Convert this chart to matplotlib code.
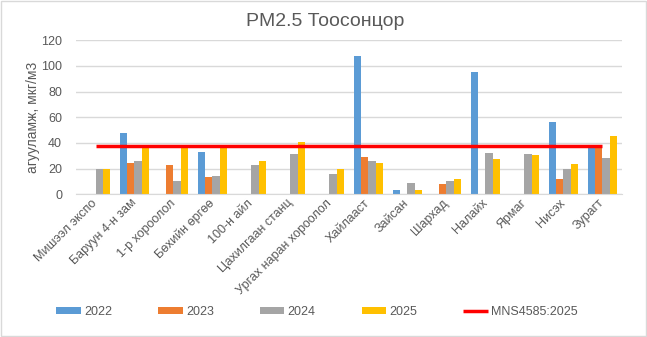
import numpy as np
import matplotlib.pyplot as plt

plt.rcParams['font.family'] = ['Liberation Sans', 'DejaVu Sans']

nan = np.nan
stations = ['Мишээл экспо', 'Баруун 4-н зам', '1-р хороолол', 'Бөхийн өргөө',
            '100-н айл', 'Цахилгаан станц', 'Ургах наран хороолол', 'Хайлааст',
            'Зайсан', 'Шархад', 'Налайх', 'Ярмаг', 'Нисэх', 'Зурагт']
pm_2022 = [nan, 47.7, nan, 32.8, nan, nan, nan, 107.8, 3.1, nan, 95.3, nan, 56.3, 38]
pm_2023 = [nan, 24.2, 22.7, 13.3, nan, nan, nan, 28.9, nan, 7.8, nan, nan, 11.7, 38]
pm_2024 = [20, 25.8, 10.2, 14.1, 22.7, 31.3, 15.6, 25.8, 8.6, 10.2, 32, 31.3, 19.5, 28]
pm_2025 = [20, 38, 38, 38, 25.8, 40.6, 19.5, 24.2, 3.1, 11.7, 27.3, 30.5, 23.4, 45.3]
standard = [37.5] * len(stations)

series = {
    '2022': (pm_2022, '#5b9bd5'),
    '2023': (pm_2023, '#ed7d31'),
    '2024': (pm_2024, '#a5a5a5'),
    '2025': (pm_2025, '#ffc000'),
}

text_color = '#595959'
grid_color = '#d9d9d9'

fig = plt.figure(figsize=(6.47, 3.37), dpi=100)
ax = fig.add_axes([0.1175, 0.4234, 0.8435, 0.4576])

x = np.arange(len(stations))
w = 0.187
bars = []
for i, (name, (vals, color)) in enumerate(series.items()):
    bars.append(ax.bar(x + (i - 1.5) * w, vals, w, color=color, label=name, zorder=2))

line, = ax.plot(x, standard, color='#ff0000', lw=2.5, label='MNS4585:2025', zorder=3,
                solid_capstyle='butt')

ax.set_xlim(-0.5, len(stations) - 0.5)
ax.set_ylim(0, 120)
ax.set_yticks(range(0, 121, 20))
ax.yaxis.grid(True, color=grid_color, lw=1, zorder=0)
ax.set_axisbelow(True)
for s in ['top', 'right', 'left']:
    ax.spines[s].set_visible(False)
ax.spines['bottom'].set_color(grid_color)
ax.tick_params(axis='both', length=0, colors=text_color, labelsize=9)
ax.tick_params(axis='y', pad=10)

ax.set_xticks(x)
ax.set_xticklabels(stations, rotation=45, ha='right', va='center',
                   rotation_mode='anchor')
ax.tick_params(axis='x', pad=5)

ax.set_ylabel('агууламж, мкг/м3', color=text_color, fontsize=10)
ax.yaxis.set_label_coords(-0.066, 0.5)
fig.text(0.502, 0.935, 'PM2.5 Тоосонцор', ha='center', va='center',
         fontsize=14, color=text_color)

handles = bars + [line]
labels = [h.get_label() for h in handles]
leg = fig.legend(handles, labels, loc='center', bbox_to_anchor=(0.49, 0.074),
                 ncol=5, frameon=False, fontsize=9, handlelength=1.98,
                 handleheight=0.45, handletextpad=0.27, columnspacing=3.66,
                 labelcolor=text_color)

fig.patches.append(plt.Rectangle((0.001, 0.002), 0.997, 0.995, transform=fig.transFigure,
                                 fill=False, edgecolor='#d9d9d9', lw=1))

fig.savefig('out.png', dpi=100)
